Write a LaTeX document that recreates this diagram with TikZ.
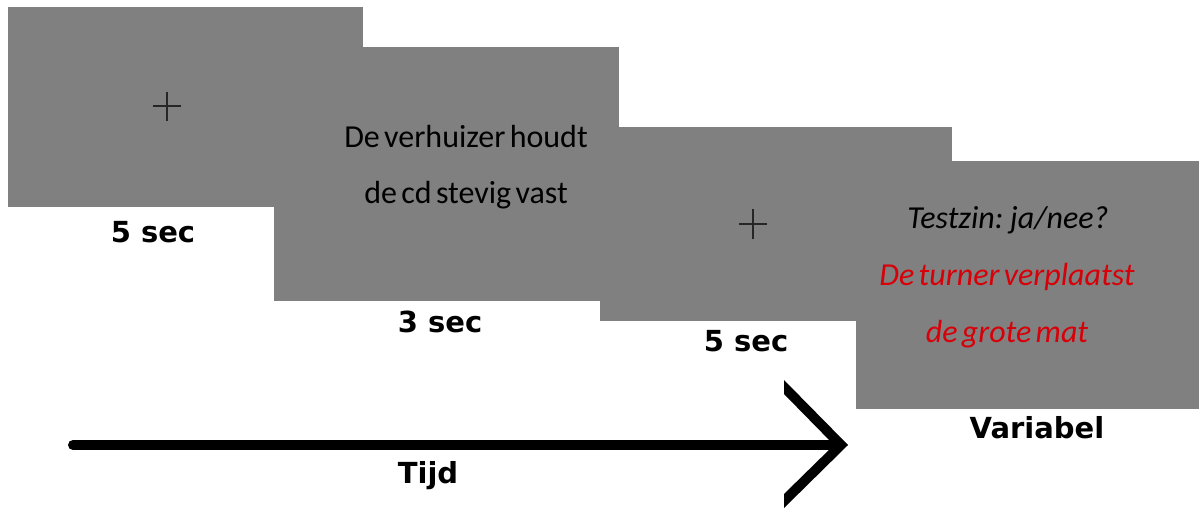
\documentclass[tikz,border=0pt]{standalone}
\usepackage{fontspec}
\setmainfont{Carlito}[WordSpace=0.6]
\newfontfamily\labelfont{DejaVu Sans}
\definecolor{slidegray}{RGB}{128,128,128}
\definecolor{testred}{RGB}{215,0,8}
\begin{document}
\begin{tikzpicture}[x=1pt,y=-1pt,
  slide/.style={fill=slidegray,draw=none},
  stimtext/.style={anchor=base,inner sep=0pt,font=\fontsize{32}{32}\selectfont},
  itstim/.style={stimtext,font=\itshape\fontsize{32}{32}\selectfont},
  timelabel/.style={anchor=base,inner sep=0pt,font=\labelfont\bfseries\fontsize{29}{29}\selectfont},
  crossline/.style={line width=2.3pt,draw=black!85}]
\useasboundingbox (0,0) rectangle (1199,508);
% slides
\fill[slide] (8,7) rectangle (363,207);
\fill[slide] (274,47) rectangle (619,301);
\fill[slide] (600,127) rectangle (952,321);
\fill[slide] (856,161) rectangle (1199,409);
% fixation crosses
\draw[crossline] (153,106) -- (181,106) (167,92) -- (167,121);
\draw[crossline] (739,224) -- (767,224) (753,209) -- (753,239);
% slide contents
\node[stimtext] (s1) at (466,147) {De verhuizer houdt};
\node[stimtext] (s2) at (466,203) {de cd stevig vast};
\node[itstim] (q1) at (1008,228) {Testzin: ja/nee?};
\node[itstim,text=testred] (q2) at (1007,285) {De turner verplaatst};
\node[itstim,text=testred] (q3) at (1007,342) {de grote mat};
% durations
\node[timelabel] (d1) at (153,242) {5 sec};
\node[timelabel] (d2) at (440,332) {3 sec};
\node[timelabel] (d3) at (746,351) {5 sec};
\node[timelabel] (d4) at (1037,438) {Variabel};
\node[timelabel] (tijd) at (428,483) {Tijd};
% time arrow
\coordinate (tstart) at (73,445);
\coordinate (tend) at (836,445);
\draw[line width=10pt,line cap=round] (tstart) -- (tend);
\fill (784,380) -- (848,445) -- (784,508) -- (784,494) -- (834,445) -- (784,394) -- cycle;
\end{tikzpicture}
\end{document}
